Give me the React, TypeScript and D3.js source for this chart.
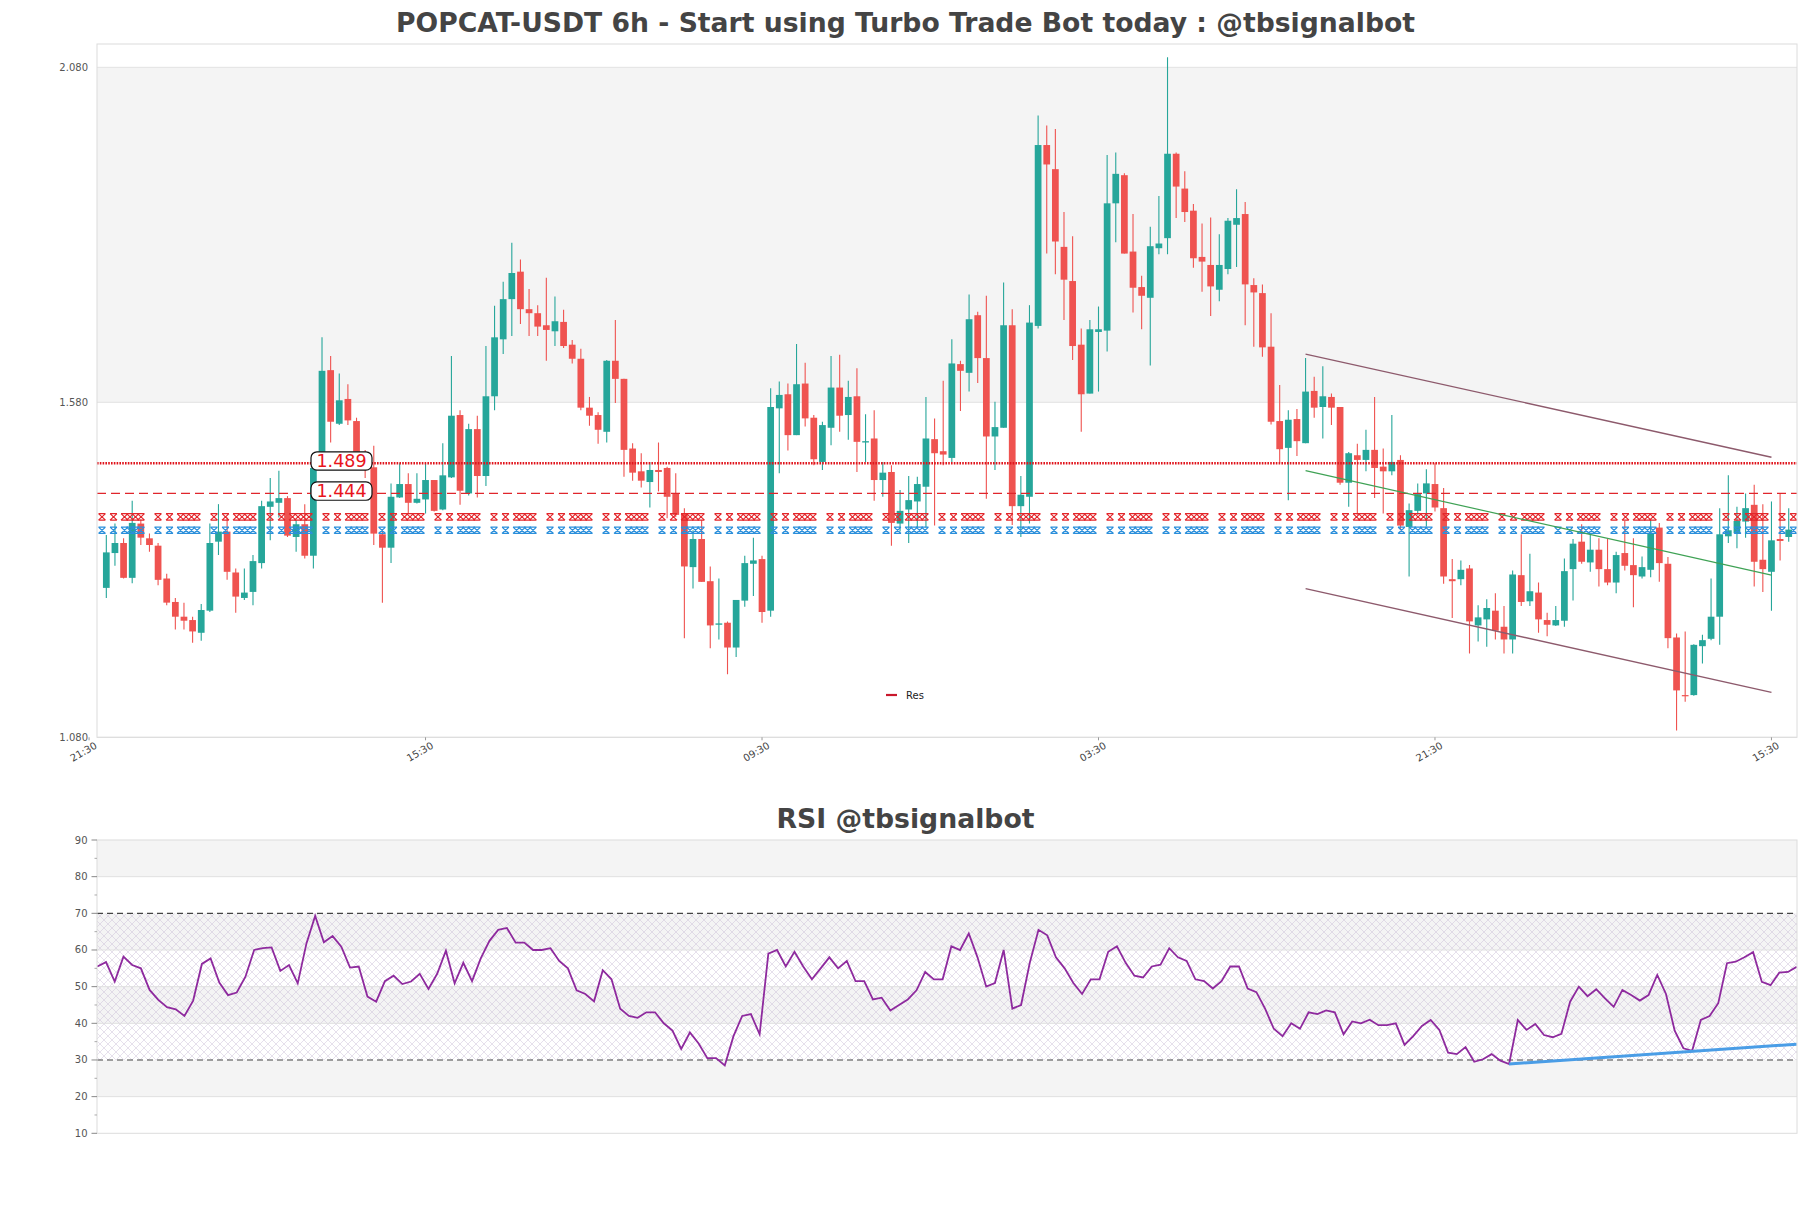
import React from 'react';
import * as d3 from 'd3';

const opens = [1.303,1.355,1.370,1.318,1.399,1.377,1.366,1.317,1.282,1.260,
1.255,1.236,1.269,1.372,1.387,1.326,1.288,1.297,1.340,1.424,
1.430,1.437,1.379,1.398,1.351,1.482,1.628,1.548,1.585,1.552,
1.497,1.483,1.383,1.363,1.438,1.458,1.430,1.435,1.464,1.420,
1.468,1.561,1.444,1.540,1.470,1.589,1.674,1.734,1.775,1.719,
1.713,1.695,1.686,1.700,1.666,1.645,1.572,1.561,1.536,1.642,
1.615,1.511,1.477,1.461,1.479,1.482,1.444,1.414,1.334,1.376,
1.313,1.248,1.251,1.214,1.284,1.339,1.346,1.269,1.571,1.592,
1.531,1.608,1.557,1.491,1.542,1.602,1.561,1.589,1.520,1.526,
1.464,1.476,1.399,1.420,1.432,1.454,1.525,1.507,1.497,1.637,
1.624,1.710,1.646,1.529,1.542,1.695,1.425,1.439,1.694,1.964,
1.928,1.812,1.761,1.666,1.593,1.685,1.687,1.877,1.919,1.805,
1.752,1.736,1.810,1.825,1.951,1.899,1.866,1.797,1.785,1.748,
1.779,1.845,1.861,1.755,1.743,1.663,1.552,1.512,1.555,1.519,
1.597,1.573,1.588,1.573,1.460,1.501,1.494,1.509,1.484,1.477,
1.494,1.394,1.418,1.444,1.458,1.422,1.316,1.316,1.332,1.247,
1.256,1.269,1.245,1.226,1.322,1.283,1.296,1.255,1.247,1.254,
1.331,1.372,1.341,1.360,1.331,1.311,1.355,1.337,1.320,1.330,
1.393,1.339,1.229,1.143,1.143,1.216,1.227,1.260,1.380,1.385,
1.402,1.427,1.345,1.327,1.376,1.379];

const closes = [1.356,1.370,1.318,1.400,1.378,1.367,1.315,1.281,1.260,1.254,
1.238,1.270,1.370,1.387,1.327,1.290,1.296,1.343,1.425,1.432,
1.437,1.381,1.398,1.351,1.482,1.627,1.551,1.583,1.553,1.497,
1.483,1.384,1.363,1.439,1.458,1.430,1.436,1.464,1.418,1.471,
1.560,1.448,1.540,1.470,1.589,1.677,1.734,1.773,1.719,1.713,
1.693,1.688,1.701,1.664,1.645,1.572,1.560,1.539,1.642,1.615,
1.509,1.475,1.463,1.479,1.476,1.439,1.412,1.335,1.376,1.312,
1.247,1.250,1.214,1.285,1.340,1.344,1.267,1.573,1.591,1.531,
1.607,1.556,1.495,1.546,1.602,1.560,1.588,1.521,1.522,1.464,
1.475,1.400,1.418,1.434,1.458,1.526,1.504,1.502,1.638,1.627,
1.704,1.646,1.529,1.543,1.695,1.425,1.442,1.699,1.964,1.935,
1.820,1.763,1.664,1.592,1.689,1.689,1.877,1.921,1.802,1.751,
1.739,1.813,1.817,1.951,1.902,1.864,1.795,1.790,1.753,1.785,
1.851,1.855,1.756,1.744,1.662,1.551,1.510,1.554,1.522,1.596,
1.572,1.589,1.572,1.460,1.504,1.494,1.509,1.482,1.477,1.491,
1.396,1.419,1.443,1.459,1.423,1.320,1.313,1.330,1.253,1.259,
1.273,1.239,1.226,1.323,1.282,1.298,1.256,1.248,1.255,1.328,
1.369,1.342,1.360,1.331,1.311,1.352,1.336,1.322,1.334,1.385,
1.340,1.228,1.150,1.142,1.218,1.225,1.260,1.383,1.389,1.403,
1.422,1.342,1.331,1.374,1.373,1.390];

const highs = [1.382,1.399,1.377,1.433,1.405,1.384,1.370,1.324,1.288,1.281,
1.260,1.279,1.399,1.428,1.408,1.332,1.332,1.352,1.433,1.467,
1.478,1.440,1.404,1.428,1.491,1.677,1.649,1.623,1.607,1.557,
1.509,1.515,1.389,1.459,1.489,1.474,1.474,1.489,1.464,1.519,
1.649,1.568,1.548,1.560,1.664,1.724,1.760,1.818,1.793,1.749,
1.725,1.766,1.738,1.718,1.673,1.660,1.588,1.565,1.643,1.703,
1.615,1.519,1.504,1.491,1.520,1.484,1.474,1.422,1.389,1.404,
1.335,1.317,1.253,1.285,1.351,1.378,1.351,1.601,1.611,1.608,
1.667,1.639,1.561,1.551,1.649,1.651,1.612,1.631,1.562,1.568,
1.491,1.486,1.449,1.470,1.469,1.588,1.556,1.612,1.674,1.642,
1.741,1.715,1.739,1.581,1.759,1.719,1.470,1.725,2.008,1.993,
1.988,1.864,1.828,1.690,1.703,1.723,1.949,1.953,1.922,1.861,
1.769,1.842,1.888,2.095,1.953,1.925,1.876,1.847,1.856,1.831,
1.855,1.898,1.879,1.765,1.756,1.713,1.606,1.568,1.570,1.646,
1.618,1.634,1.593,1.573,1.506,1.518,1.539,1.588,1.511,1.561,
1.501,1.429,1.459,1.480,1.489,1.452,1.346,1.344,1.337,1.277,
1.286,1.295,1.276,1.329,1.383,1.354,1.311,1.266,1.276,1.347,
1.376,1.398,1.383,1.377,1.376,1.357,1.403,1.377,1.350,1.404,
1.400,1.349,1.235,1.238,1.219,1.233,1.317,1.422,1.471,1.424,
1.444,1.457,1.428,1.432,1.444,1.422];

const lows = [1.288,1.336,1.317,1.310,1.367,1.357,1.307,1.277,1.241,1.241,
1.221,1.224,1.267,1.352,1.315,1.266,1.285,1.277,1.332,1.374,
1.408,1.379,1.357,1.347,1.332,1.479,1.520,1.546,1.546,1.497,
1.467,1.367,1.281,1.340,1.437,1.414,1.429,1.414,1.417,1.419,
1.467,1.427,1.441,1.438,1.455,1.568,1.652,1.679,1.697,1.679,
1.679,1.642,1.664,1.661,1.638,1.568,1.545,1.518,1.520,1.579,
1.469,1.463,1.453,1.423,1.447,1.407,1.409,1.228,1.302,1.312,
1.213,1.226,1.174,1.200,1.275,1.291,1.251,1.260,1.474,1.508,
1.531,1.544,1.486,1.479,1.516,1.536,1.524,1.476,1.491,1.433,
1.439,1.366,1.387,1.370,1.394,1.393,1.396,1.486,1.491,1.567,
1.596,1.609,1.436,1.479,1.542,1.397,1.379,1.399,1.690,1.802,
1.771,1.703,1.643,1.536,1.593,1.596,1.656,1.819,1.802,1.714,
1.689,1.635,1.801,1.801,1.855,1.849,1.781,1.745,1.709,1.731,
1.771,1.782,1.695,1.663,1.648,1.547,1.489,1.434,1.500,1.519,
1.557,1.526,1.546,1.457,1.424,1.412,1.477,1.437,1.414,1.471,
1.389,1.320,1.412,1.395,1.417,1.309,1.258,1.307,1.205,1.223,
1.215,1.226,1.205,1.205,1.276,1.276,1.236,1.231,1.246,1.245,
1.284,1.339,1.327,1.305,1.307,1.295,1.329,1.274,1.317,1.319,
1.312,1.213,1.090,1.133,1.142,1.190,1.225,1.218,1.370,1.362,
1.378,1.305,1.297,1.269,1.344,1.372];

const rsiValues = [55.5,56.7,51.4,58.2,55.9,55,49.1,46.4,44.4,43.8,
42,46.2,56.2,57.7,51.1,47.7,48.4,52.7,60,60.5,
60.7,54.3,55.9,50.9,61.8,69.3,62.1,63.8,60.9,55.2,
55.5,47.3,45.9,51.5,53,50.7,51.4,53.5,49.4,53.5,
59.8,50.9,56.5,51.5,57.7,62.5,65.5,
66,62,62,60,60,60.5,57,55,49,48,
46,54.5,52,44,42,41.5,43,43,40,38,
33,37.5,34.5,30.5,30.5,28.5,36.5,42,42.5,37,
59,60,55.5,59.5,55.5,52,55,58,55,57,
51.5,51.5,46.5,47,43.5,45,46.5,49,54,52,
52,61,60,64.5,58,50,51,60,44,45,
56.5,65.5,64,58,55,51,48,52,52,59.5,
61,56.5,53,52.5,55.5,56,60.5,58,57,52,
51.5,49.5,51.5,55.5,55.5,49.5,48.5,44,38.5,36.5,
40,38.5,43,42.5,43.5,43,37,40.5,40,41,
39.5,39.5,40,
34.1,36.5,39.3,40.9,38.2,32,31.6,33.5,29.5,30.2,
31.6,29.8,28.9,40.9,38.2,39.8,36.8,36.2,37.1,45.9,
50,47.4,49.3,46.8,44.5,49.1,47.7,46.2,47.7,53.2,
48,38,33.2,32.5,40.9,42,45.5,56.4,56.8,58,
59.4,51.3,50.4,53.8,54,55.4];

const xTickIndex = [-2, 37, 76, 115, 154, 193];
const xTickLabels = ['21:30', '15:30', '09:30', '03:30', '21:30', '15:30'];
const priceTicks = [1.08, 1.58, 2.08];
const priceBands = [[1.58, 2.08]];
const rsiTicks = [10, 20, 30, 40, 50, 60, 70, 80, 90];
const rsiMinorTicks = [15, 25, 35, 45, 55, 65, 75, 85];
const rsiBands = [[80, 90], [60, 70], [40, 50], [20, 30]];
const rsiGrid = [20, 40, 50, 60, 80];
const rsiLevels = [70, 30];
const resistanceLevels = [1.489, 1.444];
const markerLevels = [1.409, 1.389];
const channelUpper = [[139, 1.652], [193, 1.498]];
const channelLower = [[139, 1.302], [193, 1.147]];
const channelMid = [[139, 1.478], [193, 1.322]];
const rsiTrend = [[162, 28.9], [195, 34.3]];

const GREEN = '#26a69a';
const RED = '#ef5350';
const FONT = 'DejaVu Sans, Verdana, sans-serif';

export default function App() {
  const W = 1811, H = 1208;
  const L = 97, R = 1797;
  const mainTop = 44, mainBot = 737.3;
  const rsiTop = 840, rsiBot = 1133.3;

  const x = d3.scaleLinear().domain([-1.08, 195.96]).range([L, R]);
  const y = d3.scaleLinear().domain([1.08, 2.1148]).range([mainBot, mainTop]);
  const xr = d3.scaleLinear().domain([0, rsiValues.length - 1]).range([97.3, 1796.7]);
  const yr = d3.scaleLinear().domain([10, 90]).range([rsiBot, rsiTop]);

  const step = x(1) - x(0);
  const bw = step * 0.78;

  const rsiPath = d3.line<number>().x((_, i) => xr(i)).y((d) => yr(d))(rsiValues) || '';
  const seg = (pts: number[][], sx: any, sy: any) =>
    d3.line<number[]>().x((p) => sx(p[0])).y((p) => sy(p[1]))(pts) || '';

  // marker placement pattern: two isolated marks, then a chain of overlapping marks
  const period = 56;
  const offsets = [0, 11.5, 22.5, 28, 33.5, 39];
  const markerXs: number[] = [];
  for (let p = L + 5; p < R + period; p += period) {
    offsets.forEach((o) => { if (p + o < R - 2) markerXs.push(p + o); });
  }

  const markerPath = 'M-3.5,-3.2 L3.5,-3.2 M-3.5,3.2 L3.5,3.2 M-3.5,-3.2 L3.5,3.2 M3.5,-3.2 L-3.5,3.2';
  const markerColors = ['#e3262b', '#2b8fdb'];

  return (
    <svg width={W} height={H} viewBox={`0 0 ${W} ${H}`}
      style={{ position: 'absolute', left: 0, top: 0, background: '#fff' }}
      fontFamily={FONT}>
      <defs>
        <clipPath id="mainClip"><rect x={L} y={mainTop} width={R - L} height={mainBot - mainTop} /></clipPath>
        <clipPath id="rsiClip"><rect x={L} y={rsiTop} width={R - L} height={rsiBot - rsiTop} /></clipPath>
        <pattern id="hatch" width="8" height="8" patternUnits="userSpaceOnUse">
          <path d="M0,0 L8,8 M8,0 L0,8" stroke="#cbbfd8" strokeWidth="0.6" opacity="0.8" />
        </pattern>
      </defs>
      <rect x={0} y={0} width={W} height={H} fill="#fff" />

      <text x={905.5} y={32} textAnchor="middle" fontSize={26} fontWeight="bold" fill="#444"
        textLength={1019} lengthAdjust="spacingAndGlyphs">
        POPCAT-USDT 6h - Start using Turbo Trade Bot today : @tbsignalbot
      </text>

      {/* main panel */}
      <rect x={L} y={mainTop} width={R - L} height={mainBot - mainTop} fill="#fff" />
      {priceBands.map((b, i) => (
        <rect key={i} x={L} y={y(b[1])} width={R - L} height={y(b[0]) - y(b[1])} fill="#f4f4f4" />
      ))}
      {priceTicks.map((t) => (
        <g key={t}>
          <line x1={L} x2={R} y1={y(t)} y2={y(t)} stroke="#e2e2e2" strokeWidth={1} />
          <text x={88} y={y(t) + 3.5} textAnchor="end" fontSize={10} fill="#555">{t.toFixed(3)}</text>
        </g>
      ))}

      <g clipPath="url(#mainClip)">
        {opens.map((o, i) => {
          const c = closes[i];
          const up = c >= o;
          const col = up ? GREEN : RED;
          const cx = x(i);
          const top = y(Math.max(o, c));
          const bot = y(Math.min(o, c));
          return (
            <g key={i}>
              <line x1={cx} x2={cx} y1={y(highs[i])} y2={y(lows[i])} stroke={col} strokeWidth={1.1} />
              <rect x={cx - bw / 2} y={top} width={bw} height={Math.max(bot - top, 1.2)} fill={col} />
            </g>
          );
        })}

        <line x1={L} x2={R} y1={y(resistanceLevels[0])} y2={y(resistanceLevels[0])}
          stroke="#e0141c" strokeWidth={2.6} strokeDasharray="1.6,1.2" />
        <line x1={L} x2={R} y1={y(resistanceLevels[1])} y2={y(resistanceLevels[1])}
          stroke="#e0262c" strokeWidth={1.3} strokeDasharray="9,5" />

        {markerLevels.map((lv, k) => (
          <g key={k} stroke={markerColors[k]} strokeWidth={1.2} fill="none">
            {markerXs.map((mx, j) => (
              <path key={j} d={markerPath} transform={`translate(${mx},${y(lv)})`} />
            ))}
          </g>
        ))}

        <path d={seg(channelUpper, x, y)} stroke="#8d5a6c" strokeWidth={1.4} fill="none" />
        <path d={seg(channelLower, x, y)} stroke="#8d5a6c" strokeWidth={1.4} fill="none" />
        <path d={seg(channelMid, x, y)} stroke="#3fa255" strokeWidth={1.2} fill="none" />
      </g>

      {resistanceLevels.map((lv, k) => (
        <g key={k}>
          <rect x={311} y={y(lv) - 11.5} width={61} height={18.3} rx={6} ry={6} fill="#fff" stroke="#111" strokeWidth={1.2} />
          <text x={341.5} y={y(lv) + 4} textAnchor="middle" fontSize={17.5} fill="#e8141c">{lv.toFixed(3)}</text>
        </g>
      ))}

      <rect x={L} y={mainTop} width={R - L} height={mainBot - mainTop} fill="none" stroke="#dcdcdc" strokeWidth={1} />

      {xTickIndex.map((ti, k) => (
        <g key={k}>
          <line x1={x(ti)} x2={x(ti)} y1={mainBot} y2={mainBot + 3} stroke="#999" strokeWidth={1} />
          <text transform={`translate(${x(ti) + 5},${mainBot + 4}) rotate(-30)`} textAnchor="end"
            dominantBaseline="hanging" fontSize={10} fill="#444">{xTickLabels[k]}</text>
        </g>
      ))}

      <line x1={886} x2={897} y1={695} y2={695} stroke="#c9182c" strokeWidth={2.2} />
      <text x={906} y={698.5} fontSize={10} fill="#222">Res</text>

      {/* RSI panel */}
      <text x={905.5} y={828} textAnchor="middle" fontSize={26} fontWeight="bold" fill="#444"
        textLength={258} lengthAdjust="spacingAndGlyphs">RSI @tbsignalbot</text>

      <rect x={L} y={rsiTop} width={R - L} height={rsiBot - rsiTop} fill="#fff" />
      {rsiBands.map((b, i) => (
        <rect key={i} x={L} y={yr(b[1])} width={R - L} height={yr(b[0]) - yr(b[1])} fill="#f4f4f4" />
      ))}
      <rect x={L} y={yr(70)} width={R - L} height={yr(30) - yr(70)} fill="url(#hatch)" />
      {rsiGrid.map((g) => (
        <line key={g} x1={L} x2={R} y1={yr(g)} y2={yr(g)} stroke="#e0e0e0" strokeWidth={1} />
      ))}
      {rsiLevels.map((g) => (
        <line key={g} x1={L} x2={R} y1={yr(g)} y2={yr(g)} stroke="#444" strokeWidth={1.2} strokeDasharray="6,4" />
      ))}
      <g clipPath="url(#rsiClip)">
        <path d={rsiPath} fill="none" stroke="#8e2a9e" strokeWidth={1.8} />
        <path d={seg(rsiTrend, xr, yr)} stroke="#4a9de6" strokeWidth={3} fill="none" />
      </g>
      <rect x={L} y={rsiTop} width={R - L} height={rsiBot - rsiTop} fill="none" stroke="#dcdcdc" strokeWidth={1} />
      {rsiTicks.map((t) => (
        <g key={t}>
          <line x1={91.5} x2={L} y1={yr(t)} y2={yr(t)} stroke="#888" strokeWidth={1} />
          <text x={87.5} y={yr(t) + 3.5} textAnchor="end" fontSize={10} fill="#555">{t}</text>
        </g>
      ))}
      {rsiMinorTicks.map((t) => (
        <line key={t} x1={94.5} x2={L} y1={yr(t)} y2={yr(t)} stroke="#aaa" strokeWidth={1} />
      ))}
    </svg>
  );
}
